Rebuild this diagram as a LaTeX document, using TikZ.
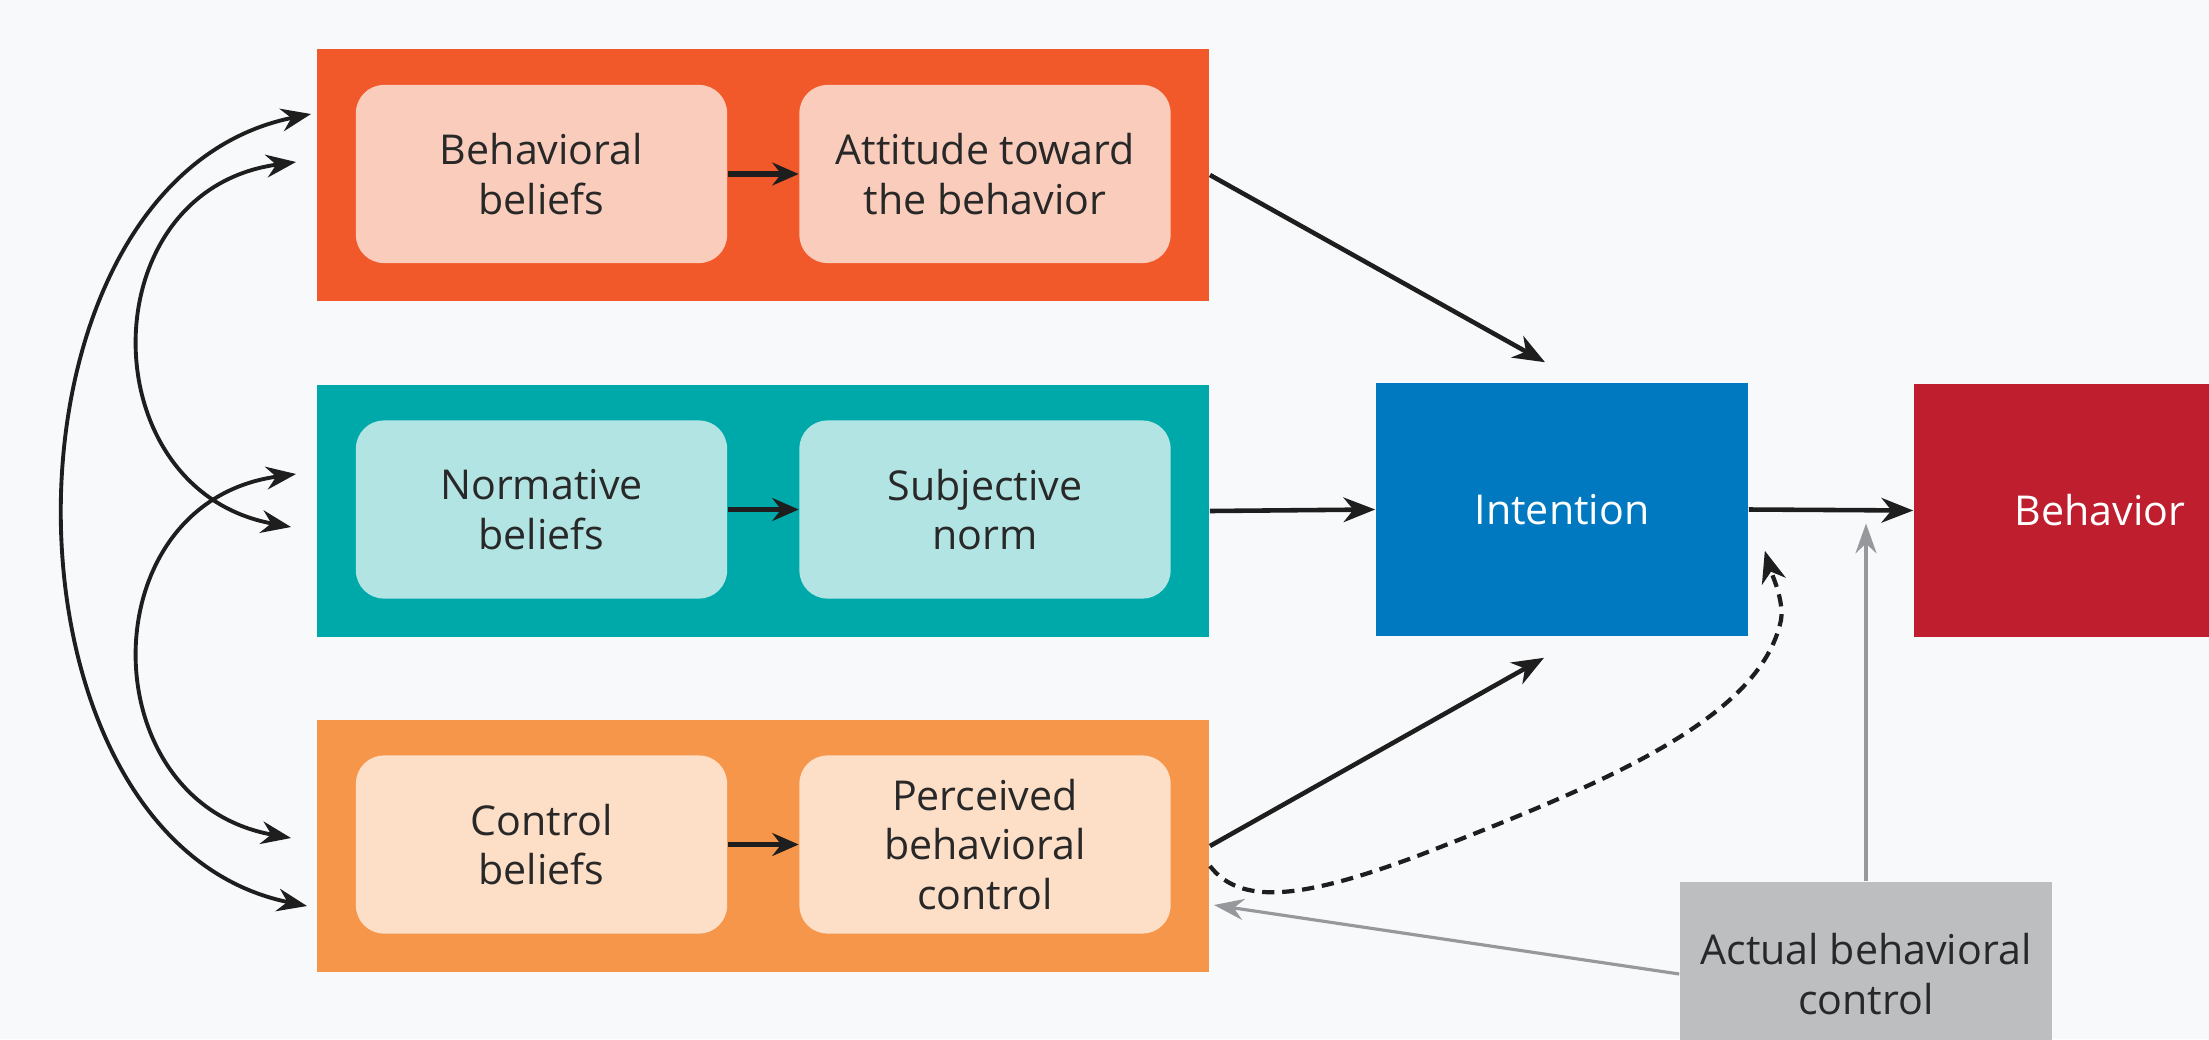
\documentclass[tikz,border=0pt]{standalone}
\usepackage{fontspec}
\setmainfont{Open Sans}
\usetikzlibrary{arrows.meta,calc}
\definecolor{bgc}{RGB}{248,249,250}
\definecolor{orA}{RGB}{241,89,42}
\definecolor{orAin}{RGB}{249,204,188}
\definecolor{tealA}{RGB}{0,169,169}
\definecolor{tealin}{RGB}{178,228,228}
\definecolor{orB}{RGB}{246,150,74}
\definecolor{orBin}{RGB}{253,222,199}
\definecolor{intblue}{RGB}{0,121,193}
\definecolor{behred}{RGB}{190,30,45}
\definecolor{graybox}{RGB}{188,190,192}
\definecolor{grayline}{RGB}{150,152,155}
\definecolor{txt}{RGB}{40,40,40}
\definecolor{ink}{RGB}{30,30,30}
\begin{document}
\begin{tikzpicture}[x=0.01cm,y=-0.01cm,
  outerbox/.style={minimum width=8.92cm,minimum height=2.52cm,inner sep=0pt},
  innerbox/.style={rounded corners=0.28cm,minimum width=3.71cm,minimum height=1.78cm,inner sep=0pt,
     align=center,text=txt,font=\fontsize{11.7}{14}\selectfont},
  bigbox/.style={minimum width=3.72cm,minimum height=2.53cm,inner sep=0pt,align=center,
     font=\fontsize{11.7}{14}\selectfont},
  blk/.style={draw=ink,line width=1.3pt,-{Stealth[length=9pt,width=7pt,inset=2.8pt]}},
  shortarr/.style={draw=ink,line width=1.5pt,-{Stealth[length=7.5pt,width=6.5pt,inset=2.5pt]}},
  arc/.style={draw=ink,line width=1.1pt,{Stealth[length=8.5pt,width=6.5pt,inset=2.8pt]}-{Stealth[length=8.5pt,width=6.5pt,inset=2.8pt]}},
  grayarr/.style={draw=grayline,line width=0.9pt,-{Stealth[length=8.5pt,width=6pt,inset=2.8pt]}},
  dasharr/.style={draw=ink,line width=1.2pt,dash pattern=on 3.5pt off 2.2pt,-{Stealth[length=9pt,width=7pt,inset=2.8pt]}}
]
\useasboundingbox (0,0) rectangle (2209,1039);
\fill[bgc] (0,0) rectangle (2209,1039);
\clip (0,0) rectangle (2209,1039);

% outer group boxes
\node[outerbox,fill=orA] (att) at (763,175) {};
\node[outerbox,fill=tealA] (norm) at (763,511) {};
\node[outerbox,fill=orB] (ctrl) at (763,846) {};

% inner boxes
\node[innerbox,fill=orAin] (bb) at (541.5,174) {Behavioral\\beliefs};
\node[innerbox,fill=orAin] (atb) at (985,174) {Attitude toward\\the behavior};
\node[innerbox,fill=tealin] (nb) at (541.5,509.5) {Normative\\beliefs};
\node[innerbox,fill=tealin] (sn) at (985,509.5) {Subjective\\norm};
\node[innerbox,fill=orBin] (cb) at (541.5,844.5) {Control\\beliefs};
\node[innerbox,fill=orBin] (pbc) at (985,844.5) {Perceived\\behavioral\\control};

% right boxes
\node[bigbox,fill=intblue,text=white] (int) at (1562,509.5) {Intention};
\node[bigbox,fill=behred,text=white] (beh) at (2100,510.5) {Behavior};
\node[bigbox,fill=graybox,text=txt,minimum height=1.84cm] (abc) at (1866,974) {Actual behavioral\\control};

% short arrows
\draw[shortarr] (bb.east) -- (atb.west);
\draw[shortarr] (nb.east) -- (sn.west);
\draw[shortarr] (cb.east) -- (pbc.west);

% main arrows
\draw[blk] (att.east) -- ($(int.north)+(-17,-20)$);
\draw[blk] (norm.east) -- (int.west);
\draw[blk] (ctrl.east) -- ($(int.south)+(-18,21)$);
\draw[blk] (int.east) -- (beh.west);

% dashed feedback
\draw[dasharr] ($(ctrl.east)+(0,20)$) .. controls (1240,905) and (1300,900) .. (1420,855)
   .. controls (1600,785) and (1760,720) .. (1781,620)
   .. controls (1784,600) and (1772,575) .. ($(int.south east)+(16,-86)$);

% gray arrows
\draw[grayarr] (abc.north) -- ($(abc.north |- int.east)+(0,14)$);
\draw[grayarr] (abc.west) -- ($(ctrl.east)+(4,59)$);

% left correlation arcs
\draw[arc] ($(att.west)+(-5,-61)$) .. controls +(-327,66) and +(-323,-66) .. ($(ctrl.west)+(-9,60)$);
\draw[arc] ($(att.west)+(-20,-13)$) .. controls +(-207,28) and +(-202,-37) .. ($(norm.west)+(-25,16)$);
\draw[arc] ($(norm.west)+(-20,-37)$) .. controls +(-207,28) and +(-202,-36) .. ($(ctrl.west)+(-25,-8)$);
\end{tikzpicture}
\end{document}
